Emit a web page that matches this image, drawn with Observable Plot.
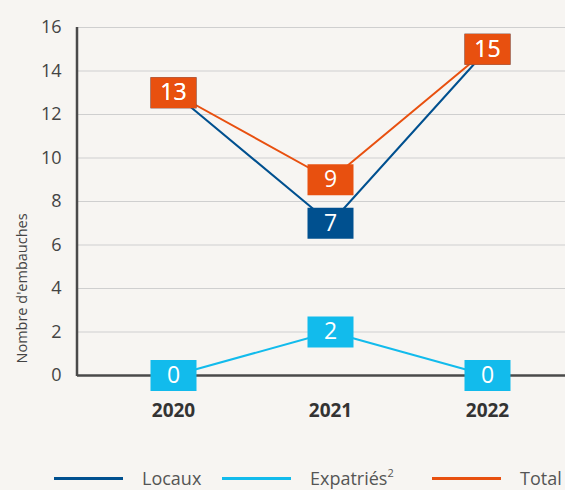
<!DOCTYPE html>
<html>
<head>
<meta charset="utf-8">
<script src="https://cdn.jsdelivr.net/npm/d3@7"></script>
<script src="https://cdn.jsdelivr.net/npm/@observablehq/plot@0.6"></script>
<style>
  html, body { margin: 0; padding: 0; background: #f7f5f2; }
  body { width: 565px; height: 490px; overflow: hidden; font-family: "Open Sans", sans-serif; }
  #legend { position: relative; height: 50px; font-size: 18px; color: #555; }
  #legend .item { position: absolute; top: 26px; display: flex; align-items: center; height: 24px; white-space: nowrap; }
  #legend .sw { width: 69px; height: 3px; margin-right: 19px; margin-top: 1px; flex: none; }
  #legend span { line-height: 24px; }
  #legend sup { font-size: 11px; line-height: 0; vertical-align: 8px; }
</style>
</head>
<body>
<div id="chart"></div>
<div id="legend"></div>
<script>
const years = ["2020", "2021", "2022"];
const locaux = [13, 7, 15];
const expatries = [0, 2, 0];
const total = [13, 9, 15];
const seriesNames = ["Locaux", "Expatriés", "Total"];
const seriesColors = ["#00508f", "#12bbec", "#e8500f"];
const yTicks = [0, 2, 4, 6, 8, 10, 12, 14, 16];
const yLabel = "Nombre d'embauches";

const seriesValues = [locaux, expatries, total];
const data = [];
// draw order: Expatriés, Locaux, Total (Total on top)
[1, 0, 2].forEach(si => {
  years.forEach((yr, i) => data.push({series: seriesNames[si], year: yr, value: seriesValues[si][i]}));
});

const boxSymbol = { draw(ctx) { ctx.rect(-23, -15.5, 46, 31); } };
const colorScale = {domain: seriesNames, range: seriesColors};
const font = "'Open Sans', sans-serif";

const plot = Plot.plot({
  width: 565,
  height: 440,
  marginLeft: 77,
  marginRight: 0,
  marginTop: 27,
  marginBottom: 65,
  style: {background: "transparent", fontFamily: font},
  x: {type: "point", domain: years, range: [172, 487], padding: 0},
  y: {domain: [0, 16], ticks: yTicks},
  color: colorScale,
  marks: [
    Plot.gridY(yTicks.filter(t => t > 0), {stroke: "#cfcfcf", strokeOpacity: 1, strokeWidth: 1.2}),
    Plot.axisY({ticks: yTicks, tickSize: 0, tickPadding: 16, fontSize: 18, fill: "#444", label: null}),
    Plot.axisX({tickSize: 0, tickPadding: 28, fontSize: 19, fontWeight: "bold", fill: "#333", label: null}),
    Plot.text([yLabel], {frameAnchor: "bottom-left", rotate: -90, textAnchor: "start", dx: -51, dy: -12, fontSize: 14.5, fill: "#444"}),
    Plot.line(data, {x: "year", y: "value", z: "series", stroke: "series", strokeWidth: 2}),
    Plot.ruleY([0], {stroke: "#4a4a4a", strokeWidth: 2.5}),
    Plot.dot(data, {x: "year", y: "value", fill: "series", symbol: boxSymbol, r: 10}),
    Plot.text(data, {x: "year", y: "value", text: d => String(d.value), fill: "white", fontSize: 23, dy: 0})
  ]
});
document.getElementById("chart").appendChild(plot);
// left axis line
d3.select(plot).append("line").attr("x1", 77).attr("x2", 77).attr("y1", 27).attr("y2", 376)
  .attr("stroke", "#4a4a4a").attr("stroke-width", 2.5);

const legendItems = [
  {name: "Locaux", left: 54, sup: ""},
  {name: "Expatriés", left: 222, sup: "2"},
  {name: "Total", left: 432, sup: ""}
];
const legend = d3.select("#legend");
legendItems.forEach((it) => {
  const item = legend.append("div").attr("class", "item").style("left", it.left + "px");
  item.append("div").attr("class", "sw").style("background", seriesColors[seriesNames.indexOf(it.name)]);
  const t = item.append("span").text(it.name);
  if (it.sup) t.append("sup").text(it.sup);
});
</script>
</body>
</html>
